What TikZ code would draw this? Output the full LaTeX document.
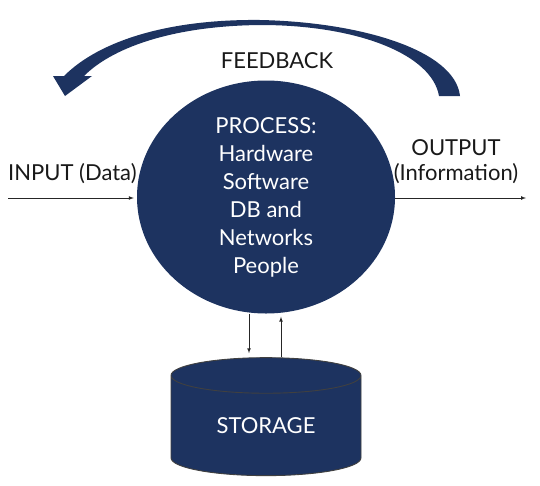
\documentclass[tikz,border=0pt]{standalone}
\usepackage{fontspec}
\setmainfont{Lato}
\usetikzlibrary{shapes.geometric,positioning}
\tikzset{>=latex}
\definecolor{navy}{RGB}{29,51,96}
\def\inproc#1{\textcolor{white}{#1}}

\begin{document}
\begin{tikzpicture}[x=1pt,y=-1pt,
    proc/.style={ellipse, fill=navy, minimum width=258pt, minimum height=233pt, inner sep=0pt, align=center},
    store/.style={cylinder, shape border rotate=90, aspect=0.36, fill=navy, draw=black!75, line width=0.9pt,
      minimum width=190pt, minimum height=118pt, inner sep=0pt},
    lbl/.style={font=\fontsize{22}{28}\selectfont, inner sep=0pt, text=black!90},
    flow/.style={draw=black!85, line width=0.7pt, ->}]
  \useasboundingbox (0,0) rectangle (540,485);

  \node[proc, font=\fontsize{22}{28}\selectfont] (proc) at (266,197)
    {\inproc{PROCESS:}\\\inproc{Hardware}\\\inproc{Software}\\\inproc{DB and}\\\inproc{Networks}\\\inproc{People}};
  \node[store, below=43.5pt of proc, font=\fontsize{22}{28}\selectfont] (store) {\inproc{STORAGE}};

  \node[lbl, anchor=base] (fb) at (277,68) {FEEDBACK};
  \node[lbl, anchor=base west] (inlbl) at (8,180) {INPUT (Data)};
  \node[lbl, anchor=base] (outlbl) at (456,155) {OUTPUT};
  \node[lbl, below=8pt of outlbl] (infolbl) {(Information)};

  \coordinate (in) at (8,198);
  \coordinate (out) at (526,198);
  \path[flow] (in) -- ([xshift=-3pt]in -| proc.west);
  \path[flow] (out -| proc.east) -- (out);
  \path[flow] ([xshift=-17pt]proc.south) -- ([xshift=-17pt, yshift=4pt]store.north);
  \path[flow] ([xshift=15pt]store.north) -- ([xshift=15pt, yshift=-3pt]proc.south);

  \fill[navy] (439,96) -- (460,96)
    .. controls (455,50) and (360,22) .. (260,20)
    .. controls (170,19) and (100,40) .. (64,76)
    -- (53,76) -- (65,96) -- (92,76) -- (84,76)
    .. controls (115,45) and (180,25) .. (265,25)
    .. controls (360,26) and (432,55) .. (439,96) -- cycle;
\end{tikzpicture}
\end{document}
